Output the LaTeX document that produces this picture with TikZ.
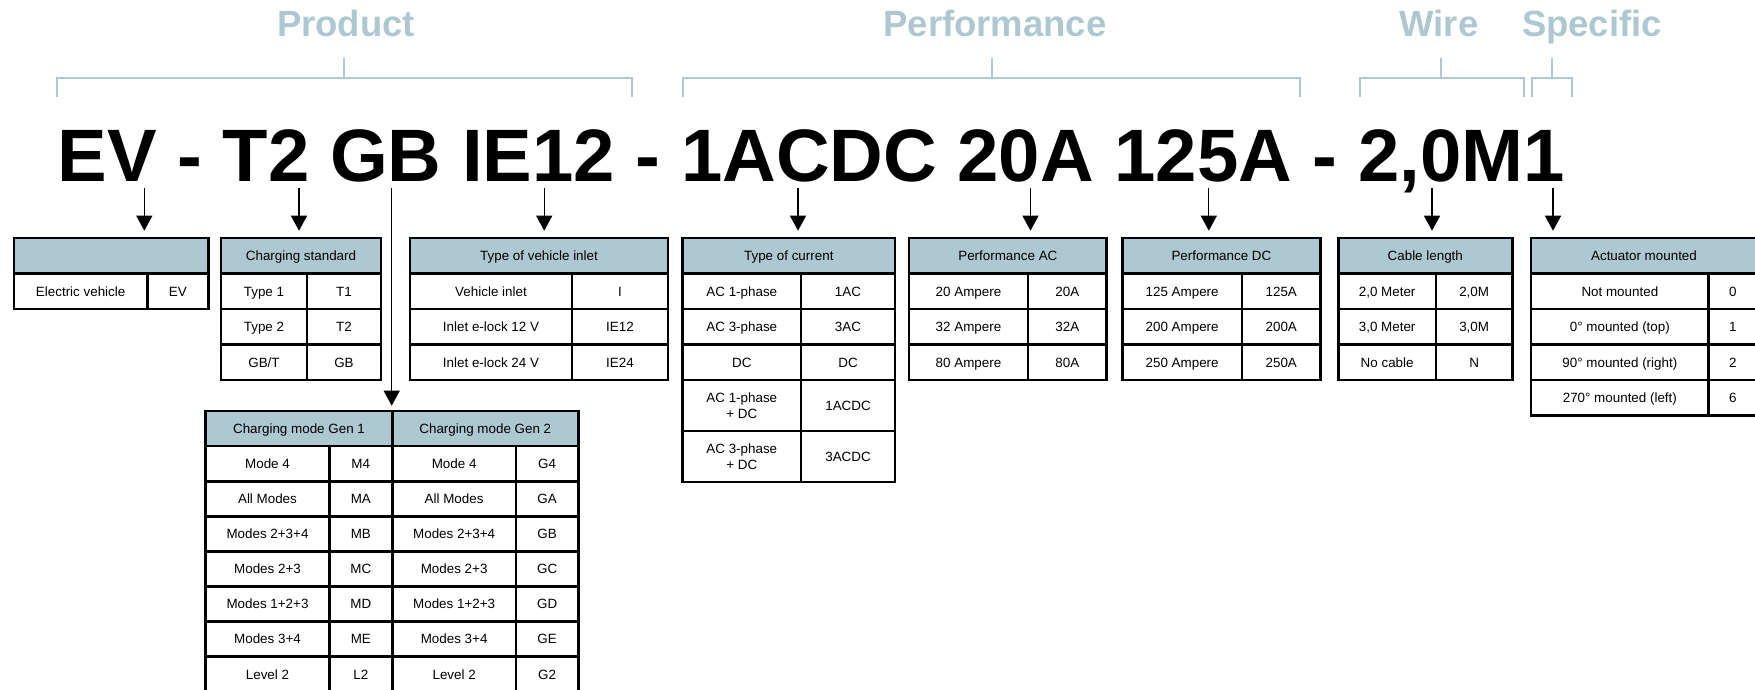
\documentclass[tikz,border=0pt]{standalone}
\usepackage{fontspec}
\setmainfont{Liberation Sans}
\usetikzlibrary{arrows.meta}
\definecolor{hdrblue}{RGB}{173,200,209}

\begin{document}
\begin{tikzpicture}[x=1pt,y=-1pt,
  cell/.style={draw,line width=2.6pt,inner sep=0pt,minimum height=35.5pt,align=center,
    text height=9.6pt,text depth=0pt,font=\fontsize{13.4}{16}\selectfont},
  hcell/.style={cell,fill=hdrblue},
  arr/.style={-{Triangle[length=15pt,width=16pt]},line width=1.3pt,shorten >=6pt},
  brk/.style={hdrblue,line width=2pt},
  ttl/.style={anchor=base,text=hdrblue,inner sep=0pt,font=\fontsize{36.5}{40}\selectfont\bfseries}]
\useasboundingbox (0,0) rectangle (1755,690);

% group titles and brackets
\node[ttl] (t-prod) at (346,36.7) {Product};
\node[ttl] (t-perf) at (995,36.7) {Performance};
\node[ttl] (t-wire) at (1439,36.7) {Wire};
\node[ttl] (t-spec) at (1592,36.7) {Specific};
\draw[brk] (56.7,96.7) -- (56.7,77.7) -- (631.7,77.7) -- (631.7,96.7);
\draw[brk] (343.8,58.3) -- (343.8,77.7);
\draw[brk] (683,96.7) -- (683,77.7) -- (1299.7,77.7) -- (1299.7,96.7);
\draw[brk] (991.8,58.3) -- (991.8,77.7);
\draw[brk] (1360,96.7) -- (1360,77.7) -- (1524,77.7) -- (1524,96.7);
\draw[brk] (1441.4,58.3) -- (1441.4,77.7);
\draw[brk] (1532,96.7) -- (1532,77.7) -- (1572,77.7) -- (1572,96.7);
\draw[brk] (1552,58.3) -- (1552,77.7);

% the code
\node[anchor=base west,inner sep=0pt,font=\fontsize{74.3}{80}\selectfont\bfseries] (code) at (57.5,181.7)
  {EV - T2 GB IE12 - 1ACDC 20A 125A - 2,0M1};

% electric vehicle
\node[hcell,minimum width=194.3pt] (ev-h) at (111.15,255.75) {};
\node[cell,minimum width=133.3pt] (ev-1a) at (80.65,291.25) {Electric vehicle};
\node[cell,minimum width=61pt] (ev-1b) at (177.8,291.25) {EV};

% charging standard
\node[hcell,minimum width=160pt] (cs-h) at (301,255.75) {Charging standard};
\node[cell,minimum width=86pt] (cs-1a) at (264,291.25) {Type 1};
\node[cell,minimum width=74pt] (cs-1b) at (344,291.25) {T1};
\node[cell,minimum width=86pt] (cs-2a) at (264,326.75) {Type 2};
\node[cell,minimum width=74pt] (cs-2b) at (344,326.75) {T2};
\node[cell,minimum width=86pt] (cs-3a) at (264,362.25) {GB/T};
\node[cell,minimum width=74pt] (cs-3b) at (344,362.25) {GB};

% vehicle inlet
\node[hcell,minimum width=258pt] (vi-h) at (539,255.75) {Type of vehicle inlet};
\node[cell,minimum width=162pt] (vi-1a) at (491,291.25) {Vehicle inlet};
\node[cell,minimum width=96pt] (vi-1b) at (620,291.25) {I};
\node[cell,minimum width=162pt] (vi-2a) at (491,326.75) {Inlet e-lock 12 V};
\node[cell,minimum width=96pt] (vi-2b) at (620,326.75) {IE12};
\node[cell,minimum width=162pt] (vi-3a) at (491,362.25) {Inlet e-lock 24 V};
\node[cell,minimum width=96pt] (vi-3b) at (620,362.25) {IE24};

% type of current
\node[hcell,minimum width=212.4pt] (tc-h) at (788.8,255.75) {Type of current};
\node[cell,minimum width=118.4pt] (tc-1a) at (741.8,291.25) {AC 1-phase};
\node[cell,minimum width=94pt] (tc-1b) at (848,291.25) {1AC};
\node[cell,minimum width=118.4pt] (tc-2a) at (741.8,326.75) {AC 3-phase};
\node[cell,minimum width=94pt] (tc-2b) at (848,326.75) {3AC};
\node[cell,minimum width=118.4pt] (tc-3a) at (741.8,362.25) {DC};
\node[cell,minimum width=94pt] (tc-3b) at (848,362.25) {DC};
\node[cell,minimum width=118.4pt,minimum height=51pt,text height=,text depth=] (tc-4a) at (741.8,405.5) {AC 1-phase\\+ DC};
\node[cell,minimum width=94pt,minimum height=51pt] (tc-4b) at (848,405.5) {1ACDC};
\node[cell,minimum width=118.4pt,minimum height=51pt,text height=,text depth=] (tc-5a) at (741.8,456.5) {AC 3-phase\\+ DC};
\node[cell,minimum width=94pt,minimum height=51pt] (tc-5b) at (848,456.5) {3ACDC};

% performance AC
\node[hcell,minimum width=197.7pt] (ac-h) at (1007.85,255.75) {Performance AC};
\node[cell,minimum width=119pt] (ac-1a) at (968.5,291.25) {20 Ampere};
\node[cell,minimum width=78.7pt] (ac-1b) at (1067.35,291.25) {20A};
\node[cell,minimum width=119pt] (ac-2a) at (968.5,326.75) {32 Ampere};
\node[cell,minimum width=78.7pt] (ac-2b) at (1067.35,326.75) {32A};
\node[cell,minimum width=119pt] (ac-3a) at (968.5,362.25) {80 Ampere};
\node[cell,minimum width=78.7pt] (ac-3b) at (1067.35,362.25) {80A};

% performance DC
\node[hcell,minimum width=198.2pt] (dc-h) at (1221.4,255.75) {Performance DC};
\node[cell,minimum width=119.7pt] (dc-1a) at (1182.15,291.25) {125 Ampere};
\node[cell,minimum width=78.5pt] (dc-1b) at (1281.25,291.25) {125A};
\node[cell,minimum width=119.7pt] (dc-2a) at (1182.15,326.75) {200 Ampere};
\node[cell,minimum width=78.5pt] (dc-2b) at (1281.25,326.75) {200A};
\node[cell,minimum width=119.7pt] (dc-3a) at (1182.15,362.25) {250 Ampere};
\node[cell,minimum width=78.5pt] (dc-3b) at (1281.25,362.25) {250A};

% cable length
\node[hcell,minimum width=174pt] (cl-h) at (1425.3,255.75) {Cable length};
\node[cell,minimum width=97.7pt] (cl-1a) at (1387.15,291.25) {2,0 Meter};
\node[cell,minimum width=76.3pt] (cl-1b) at (1474.15,291.25) {2,0M};
\node[cell,minimum width=97.7pt] (cl-2a) at (1387.15,326.75) {3,0 Meter};
\node[cell,minimum width=76.3pt] (cl-2b) at (1474.15,326.75) {3,0M};
\node[cell,minimum width=97.7pt] (cl-3a) at (1387.15,362.25) {No cable};
\node[cell,minimum width=76.3pt] (cl-3b) at (1474.15,362.25) {N};

% actuator
\node[hcell,minimum width=226pt] (am-h) at (1644,255.75) {Actuator mounted};
\node[cell,minimum width=177.7pt] (am-1a) at (1619.85,291.25) {Not mounted};
\node[cell,minimum width=48.3pt] (am-1b) at (1732.85,291.25) {0};
\node[cell,minimum width=177.7pt] (am-2a) at (1619.85,326.75) {0° mounted (top)};
\node[cell,minimum width=48.3pt] (am-2b) at (1732.85,326.75) {1};
\node[cell,minimum width=177.7pt] (am-3a) at (1619.85,362.25) {90° mounted (right)};
\node[cell,minimum width=48.3pt] (am-3b) at (1732.85,362.25) {2};
\node[cell,minimum width=177.7pt] (am-4a) at (1619.85,397.75) {270° mounted (left)};
\node[cell,minimum width=48.3pt] (am-4b) at (1732.85,397.75) {6};

% charging mode
\begin{scope}[cell/.append style={minimum height=35.1pt}]
\node[hcell,minimum width=186.6pt] (g1-h) at (299,428.55) {Charging mode Gen 1};
\node[hcell,minimum width=186pt] (g2-h) at (485.3,428.55) {Charging mode Gen 2};
\node[cell,minimum width=123.6pt] (g1-1a) at (267.5,463.65) {Mode 4};
\node[cell,minimum width=63pt] (g1-1b) at (360.8,463.65) {M4};
\node[cell,minimum width=123.7pt] (g2-1a) at (454.15,463.65) {Mode 4};
\node[cell,minimum width=62.3pt] (g2-1b) at (547.15,463.65) {G4};
\node[cell,minimum width=123.6pt] (g1-2a) at (267.5,498.75) {All Modes};
\node[cell,minimum width=63pt] (g1-2b) at (360.8,498.75) {MA};
\node[cell,minimum width=123.7pt] (g2-2a) at (454.15,498.75) {All Modes};
\node[cell,minimum width=62.3pt] (g2-2b) at (547.15,498.75) {GA};
\node[cell,minimum width=123.6pt] (g1-3a) at (267.5,533.85) {Modes 2+3+4};
\node[cell,minimum width=63pt] (g1-3b) at (360.8,533.85) {MB};
\node[cell,minimum width=123.7pt] (g2-3a) at (454.15,533.85) {Modes 2+3+4};
\node[cell,minimum width=62.3pt] (g2-3b) at (547.15,533.85) {GB};
\node[cell,minimum width=123.6pt] (g1-4a) at (267.5,568.95) {Modes 2+3};
\node[cell,minimum width=63pt] (g1-4b) at (360.8,568.95) {MC};
\node[cell,minimum width=123.7pt] (g2-4a) at (454.15,568.95) {Modes 2+3};
\node[cell,minimum width=62.3pt] (g2-4b) at (547.15,568.95) {GC};
\node[cell,minimum width=123.6pt] (g1-5a) at (267.5,604.05) {Modes 1+2+3};
\node[cell,minimum width=63pt] (g1-5b) at (360.8,604.05) {MD};
\node[cell,minimum width=123.7pt] (g2-5a) at (454.15,604.05) {Modes 1+2+3};
\node[cell,minimum width=62.3pt] (g2-5b) at (547.15,604.05) {GD};
\node[cell,minimum width=123.6pt] (g1-6a) at (267.5,639.15) {Modes 3+4};
\node[cell,minimum width=63pt] (g1-6b) at (360.8,639.15) {ME};
\node[cell,minimum width=123.7pt] (g2-6a) at (454.15,639.15) {Modes 3+4};
\node[cell,minimum width=62.3pt] (g2-6b) at (547.15,639.15) {GE};
\node[cell,minimum width=123.6pt] (g1-7a) at (267.5,674.25) {Level 2};
\node[cell,minimum width=63pt] (g1-7b) at (360.8,674.25) {L2};
\node[cell,minimum width=123.7pt] (g2-7a) at (454.15,674.25) {Level 2};
\node[cell,minimum width=62.3pt] (g2-7b) at (547.15,674.25) {G2};
\end{scope}

% arrows
\coordinate (a-ev) at (144.3,188);
\coordinate (a-cs) at (299,188);
\coordinate (a-gb) at (391.7,188);
\coordinate (a-vi) at (544.2,188);
\coordinate (a-tc) at (798,188);
\coordinate (a-ac) at (1030.5,188);
\coordinate (a-dc) at (1208.8,188);
\coordinate (a-cl) at (1432,188);
\coordinate (a-am) at (1553,188);
\draw[arr] (a-ev) -- (a-ev |- ev-h.north);
\draw[arr] (a-cs) -- (a-cs |- cs-h.north);
\draw[arr,shorten >=4pt] (a-gb) -- (a-gb |- g1-h.north);
\draw[arr] (a-vi) -- (a-vi |- vi-h.north);
\draw[arr] (a-tc) -- (a-tc |- tc-h.north);
\draw[arr] (a-ac) -- (a-ac |- ac-h.north);
\draw[arr] (a-dc) -- (a-dc |- dc-h.north);
\draw[arr] (a-cl) -- (a-cl |- cl-h.north);
\draw[arr] (a-am) -- (a-am |- am-h.north);
\end{tikzpicture}
\end{document}
